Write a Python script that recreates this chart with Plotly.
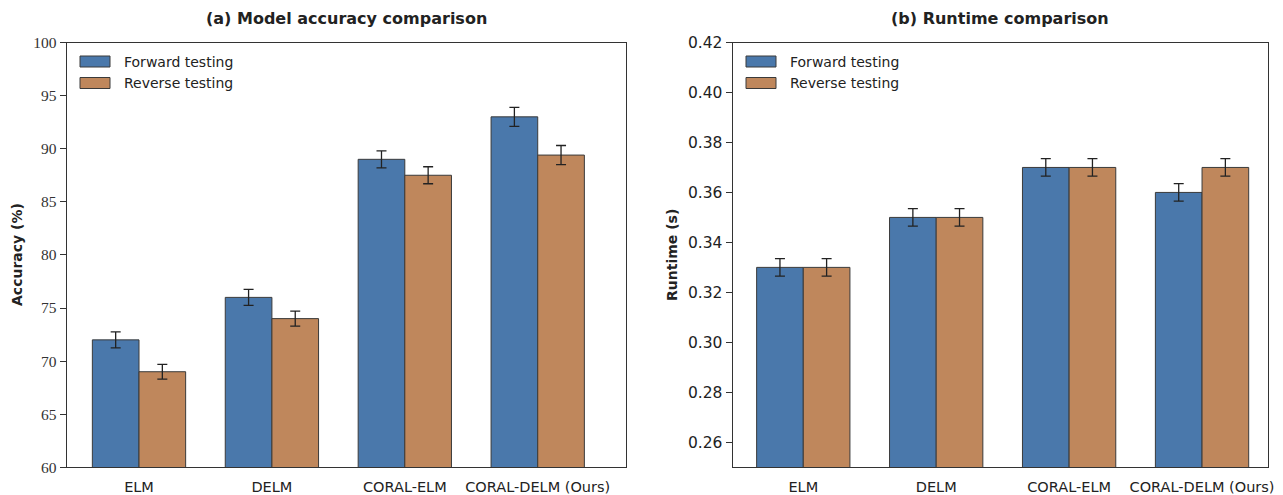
import plotly.graph_objects as go

W, H = 1283, 495

categories = ["ELM", "DELM", "CORAL-ELM", "CORAL-DELM (Ours)"]
series_names = ["Forward testing", "Reverse testing"]

acc_forward = [72.0, 76.0, 89.0, 93.0]
acc_reverse = [69.0, 74.0, 87.5, 89.4]
acc_forward_err = [0.75, 0.75, 0.8, 0.9]
acc_reverse_err = [0.7, 0.7, 0.8, 0.9]

rt_forward = [0.33, 0.35, 0.37, 0.36]
rt_reverse = [0.33, 0.35, 0.37, 0.37]
rt_forward_err = [0.0035, 0.0035, 0.0035, 0.0035]
rt_reverse_err = [0.0035, 0.0035, 0.0035, 0.0035]

acc_ticks = [60, 65, 70, 75, 80, 85, 90, 95, 100]
rt_ticks = [0.26, 0.28, 0.30, 0.32, 0.34, 0.36, 0.38, 0.40, 0.42]

BLUE = "#4a78ab"
ORANGE = "#bf875c"
EDGE = "#3a3a3a"
colors = [BLUE, ORANGE]

xpos = list(range(len(categories)))

fig = go.Figure()


def add_bars(vals_list, errs_list, xa, ya):
    for name, vals, errs, col in zip(series_names, vals_list, errs_list, colors):
        fig.add_trace(go.Bar(
            x=xpos, y=vals, name=name, xaxis=xa, yaxis=ya,
            marker=dict(color=col, line=dict(color=EDGE, width=1)),
            error_y=dict(type="data", array=errs, color="#222222", thickness=1.3, width=5),
            showlegend=False, offsetgroup=name,
        ))


add_bars([acc_forward, acc_reverse], [acc_forward_err, acc_reverse_err], "x", "y")
add_bars([rt_forward, rt_reverse], [rt_forward_err, rt_reverse_err], "x2", "y2")


def px_x(p):
    return p / W


def px_y(p):
    return 1 - p / H


ydom = [px_y(467.3), px_y(42.5)]
axis_line = dict(showline=True, linecolor="#333333", linewidth=1.3, mirror=True)

common_x = dict(tickvals=xpos, ticktext=categories, ticks="", showgrid=False, zeroline=False,
                tickfont=dict(family="DejaVu Sans", size=14.5, color="#222222"),
                ticklabelstandoff=6, automargin=False, **axis_line)

fig.update_layout(
    width=W, height=H,
    margin=dict(l=0, r=0, t=0, b=0),
    paper_bgcolor="white", plot_bgcolor="white",
    barmode="group", bargap=0.298, bargroupgap=0,
    xaxis=dict(domain=[px_x(66.7), px_x(625.7)], range=[-0.544, 3.662], anchor="y", **common_x),
    xaxis2=dict(domain=[px_x(732.7), px_x(1267.7)], range=[-0.531, 3.494], anchor="y2", **common_x),
    yaxis=dict(domain=ydom, range=[60, 100], tickvals=acc_ticks, ticks="outside", ticklen=6,
               tickcolor="#333333", showgrid=False, zeroline=False, automargin=False,
               tickfont=dict(family="Liberation Serif", size=15.5, color="#333333"),
               anchor="x", **axis_line),
    yaxis2=dict(domain=ydom, range=[0.25, 0.42], tickvals=rt_ticks, tickformat=".2f",
                ticks="outside", ticklen=6, tickcolor="#333333", showgrid=False, zeroline=False,
                automargin=False, tickfont=dict(family="DejaVu Sans", size=15.5, color="#222222"),
                anchor="x2", **axis_line),
)

annotations = []
shapes = []

# titles
for txt, cx in [("(a) Model accuracy comparison", (66.7 + 625.7) / 2),
                 ("(b) Runtime comparison", (732.7 + 1267.7) / 2)]:
    annotations.append(dict(text="<b>%s</b>" % txt, x=px_x(cx), y=px_y(18), xref="paper", yref="paper",
                            showarrow=False, xanchor="center", yanchor="middle",
                            font=dict(family="DejaVu Sans", size=16, color="#222222")))

# y axis titles
for txt, cx in [("Accuracy (%)", 17), ("Runtime (s)", 672)]:
    annotations.append(dict(text="<b>%s</b>" % txt, x=px_x(cx), y=px_y(255), xref="paper", yref="paper",
                            showarrow=False, xanchor="center", yanchor="middle", textangle=-90,
                            font=dict(family="DejaVu Sans", size=14, color="#222222")))

# legends (manual, matplotlib style swatches)
for x0 in [80, 746]:
    for i, (name, col) in enumerate(zip(series_names, colors)):
        yc = 61.5 + i * 21.5
        shapes.append(dict(type="rect", xref="paper", yref="paper",
                           x0=px_x(x0), x1=px_x(x0 + 30), y0=px_y(yc - 5.5), y1=px_y(yc + 5.5),
                           fillcolor=col, line=dict(color=EDGE, width=1)))
        annotations.append(dict(text=name, x=px_x(x0 + 42), y=px_y(yc), xref="paper", yref="paper",
                                showarrow=False, xanchor="left", yanchor="middle",
                                font=dict(family="DejaVu Sans", size=14, color="#222222")))

fig.update_layout(annotations=annotations, shapes=shapes)

fig.write_html("out.html", config={"displayModeBar": False},
               post_script="document.body.style.margin='0px';document.body.style.overflow='hidden';")
